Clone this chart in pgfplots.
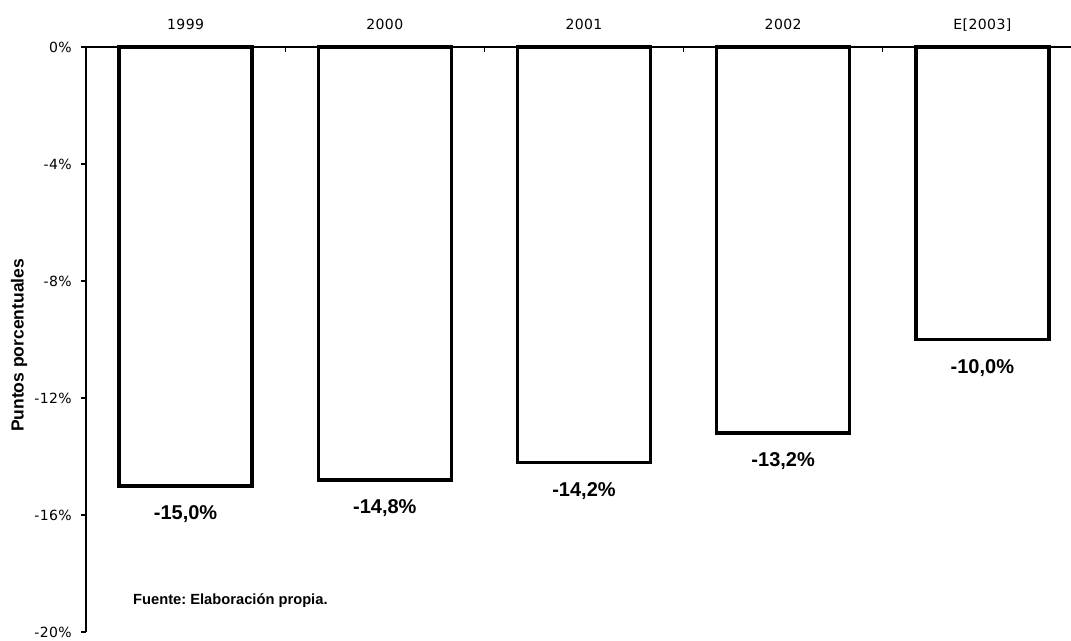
\documentclass[border=0pt]{standalone}
\usepackage{pgfplots}
\pgfplotsset{compat=1.18}
\usepackage{pgfplotstable}
\usepackage{fontspec}
\setmainfont{Liberation Sans}
\newfontfamily\tickfont[LetterSpace=3]{DejaVu Sans}
\frenchspacing

\pgfplotstableread{
x y label
0 -15.0 {-15,0\%}
1 -14.8 {-14,8\%}
2 -14.2 {-14,2\%}
3 -13.2 {-13,2\%}
4 -10.0 {-10,0\%}
}\datatable

\begin{document}
\begin{tikzpicture}
\useasboundingbox (0,0) rectangle (1071bp,-641bp);
\begin{axis}[
  at={(86bp,-47bp)}, anchor=north west,
  scale only axis,
  width=985bp, height=585bp,
  xmin=-0.5, xmax=4.445,
  ymin=-20, ymax=0,
  axis x line*=top,
  axis y line*=left,
  axis line style={line width=2.2bp, black},
  xtick={0,1,2,3,4},
  xticklabels={1999,2000,2001,2002,{E[2003]}},
  minor xtick={0.5,1.5,2.5,3.5},
  major x tick style={draw=none},
  minor x tick style={line width=1.2bp, black, yshift=-5bp},
  minor tick length=5bp,
  tick align=inside,
  ytick={-20,-16,-12,-8,-4,0},
  yticklabels={-20\%,-16\%,-12\%,-8\%,-4\%,0\%},
  major tick length=5bp,
  y tick style={line width=1.2bp, black, xshift=-5bp},
  xticklabel style={font=\tickfont\fontsize{14bp}{16bp}\selectfont, anchor=base, inner sep=0pt, yshift=12bp},
  yticklabel style={font=\tickfont\fontsize{14bp}{16bp}\selectfont, anchor=east, inner sep=0pt, xshift=-14bp},
  every axis y label/.style={at={(axis description cs:-0.068,0.49)}, anchor=center, rotate=90},
  ylabel={\bfseries\fontsize{17.5bp}{20bp}\selectfont Puntos porcentuales},
  ybar, bar width=133bp,
  clip=false,
  nodes near coords,
  point meta=explicit symbolic,
  every node near coord/.append style={anchor=north, inner sep=0pt, yshift=-18bp, font=\bfseries\fontsize{20bp}{23bp}\selectfont},
]
\addplot[fill=white, draw=black, line width=3.5bp] table[x=x, y=y, meta=label] {\datatable};
\end{axis}
\node[anchor=west, inner sep=0pt, font=\bfseries\fontsize{14.7bp}{17bp}\selectfont] at (133bp,-601bp) {Fuente: Elaboración propia.};
\end{tikzpicture}
\end{document}
